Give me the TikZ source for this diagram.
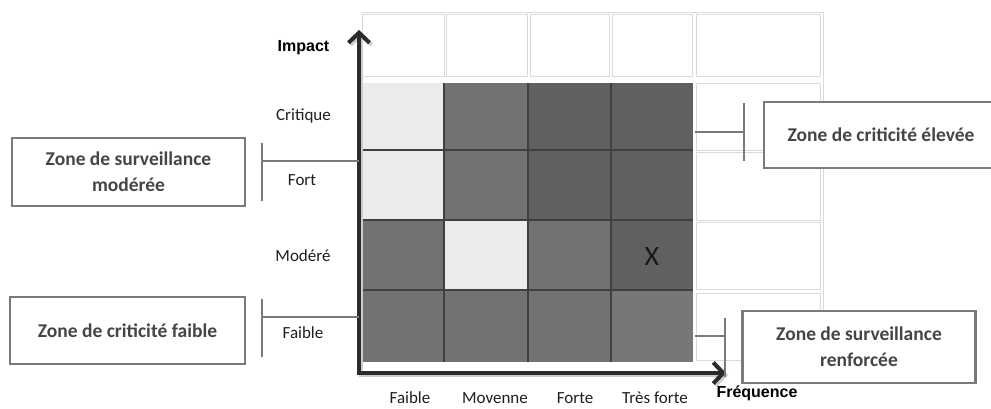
\documentclass[tikz,border=0pt]{standalone}
\usepackage{fontspec}
\setmainfont{Carlito}
\newfontfamily\arialfont{Liberation Sans}
\usetikzlibrary{arrows.meta,calc}
\definecolor{clight}{HTML}{EBEBEB}
\definecolor{cmid}{HTML}{727272}
\definecolor{cdark}{HTML}{606060}
\definecolor{cmid2}{HTML}{777777}
\definecolor{frame}{HTML}{7A7A7A}
\definecolor{boxtext}{HTML}{454545}
\definecolor{axiscol}{HTML}{2B2B2B}
\definecolor{tbl}{HTML}{DADADA}
\tikzset{
  tblcell/.style={draw=tbl, line width=0.9pt},
  zonebox/.style={draw=frame, line width=2.6pt, fill=white, text=boxtext,
    font=\bfseries\fontsize{19.5}{26}\selectfont, align=center, inner sep=0pt},
  bracket/.style={draw=frame, line width=2.6pt},
  lvl/.style={font=\fontsize{17}{19}\selectfont, text=black!88, inner sep=0pt},
  axislbl/.style={font=\arialfont\bfseries\fontsize{16}{18}\selectfont, text=black, inner sep=0pt},
  axisline/.style={draw=axiscol, line width=4pt, -{Straight Barb[length=10pt,width=21pt]}},
  axisshadow/.style={draw=black!20, line width=4pt, -{Straight Barb[length=10pt,width=21pt]}},
  gridline/.style={draw=axiscol!90, line width=1.6pt}
}
\begin{document}
\begin{tikzpicture}[x=1pt,y=-1pt]
\clip (0,0) rectangle (991,408);
\fill[white] (0,0) rectangle (991,408);

% light background table
\draw[tbl, line width=0.9pt] (362,12) -- (823,12) -- (823,364);
\foreach \a/\b in {362/444,446/527,530/609,612/692,696/820}
  \draw[tblcell] (\a,14) rectangle (\b,76);
\foreach \a/\b in {83/150,152/220,222/289,293/360}
  \draw[tblcell] (696,\a) rectangle (820,\b);

% row 1 (Critique)
\fill[clight] (362,83) rectangle (444,150);
\fill[cmid]   (444,83) rectangle (528,150);
\fill[cdark]  (528,83) rectangle (611,150);
\fill[cdark]  (611,83) rectangle (693,150);
% row 2 (Fort)
\fill[clight] (362,150) rectangle (444,220);
\fill[cmid]   (444,150) rectangle (528,220);
\fill[cdark]  (528,150) rectangle (611,220);
\fill[cdark]  (611,150) rectangle (693,220);
% row 3 (Modere)
\fill[cmid]   (362,220) rectangle (444,290);
\fill[clight] (444,220) rectangle (528,290);
\fill[cmid]   (528,220) rectangle (611,290);
\fill[cdark]  (611,220) rectangle (693,290);
% row 4 (Faible)
\fill[cmid]   (362,290) rectangle (444,362);
\fill[cmid]   (444,290) rectangle (528,362);
\fill[cmid]   (528,290) rectangle (611,362);
\fill[cmid2]  (611,290) rectangle (693,362);
% interior grid lines
\foreach \x in {444,528,611} \draw[gridline] (\x,83) -- (\x,362);
\foreach \y in {150,220,290} \draw[gridline] (362,\y) -- (693,\y);

\node[font=\fontsize{28}{30}\selectfont, text=black!90, inner sep=0pt] (xmark) at (652,257) {X};

% axes
\coordinate (origin) at (359,373);
\coordinate (ytip) at (359,30);
\coordinate (xtip) at (726,373);
\draw[axisshadow] (361,375) -- (361,32);
\draw[axisshadow] (359,375) -- (728,375);
\draw[axisline] ($(origin)+(0,2)$) -- (ytip);
\draw[axisline] ($(origin)+(-2,0)$) -- (xtip);

% axis labels
\node[axislbl] (impact) at (303.5,48) {Impact};
\node[axislbl] (freq) at (757,393) {Fréquence};

% level labels
\node[lvl] (critique) at (303.5,116) {Critique};
\node[lvl] (fort) at (302,180) {Fort};
\node[lvl] (modere) at (303,256) {Modéré};
\node[lvl] (faibleI) at (303,333) {Faible};

\node[lvl, anchor=base] (faibleF) at (410,403) {Faible};
\node[lvl, anchor=base] (moyenne) at (495,403) {Movenne};
\node[lvl, anchor=base] (forte) at (575,403) {Forte};
\node[lvl, anchor=base] (tresforte) at (655,403) {Très forte};

% zone boxes
\node[zonebox, minimum width=233pt, minimum height=68pt] (bmod) at (128.5,172) {Zone de surveillance\\modérée};
\node[zonebox, minimum width=235pt, minimum height=67pt] (bfai) at (127.5,330.5) {Zone de criticité faible};
\node[zonebox, minimum width=234pt, minimum height=66pt] (bele) at (881,135) {Zone de criticité élevée};
\node[zonebox, minimum width=233pt, minimum height=72pt] (bren) at (859,347) {Zone de surveillance\\renforcée};

% brackets
\coordinate (lb1t) at (262,143); \coordinate (lb1b) at (262,201);
\coordinate (lb1m) at (262,161); \coordinate (lb1e) at (359,161);
\coordinate (lb2t) at (262,299); \coordinate (lb2b) at (262,357);
\coordinate (lb2m) at (262,317); \coordinate (lb2e) at (359,317);
\coordinate (rb1t) at (744,103); \coordinate (rb1b) at (744,161);
\coordinate (rb1m) at (744,132); \coordinate (rb1e) at (695,132);
\coordinate (rb2t) at (725,318); \coordinate (rb2b) at (725,377);
\coordinate (rb2m) at (725,336); \coordinate (rb2e) at (695,336);
\draw[bracket] (lb1t) -- (lb1b); \draw[bracket] (lb1m) -- (lb1e);
\draw[bracket] (lb2t) -- (lb2b); \draw[bracket] (lb2m) -- (lb2e);
\draw[bracket] (rb1t) -- (rb1b); \draw[bracket] (rb1m) -- (rb1e);
\draw[bracket] (rb2t) -- (rb2b); \draw[bracket] (rb2m) -- (rb2e);
\end{tikzpicture}
\end{document}
